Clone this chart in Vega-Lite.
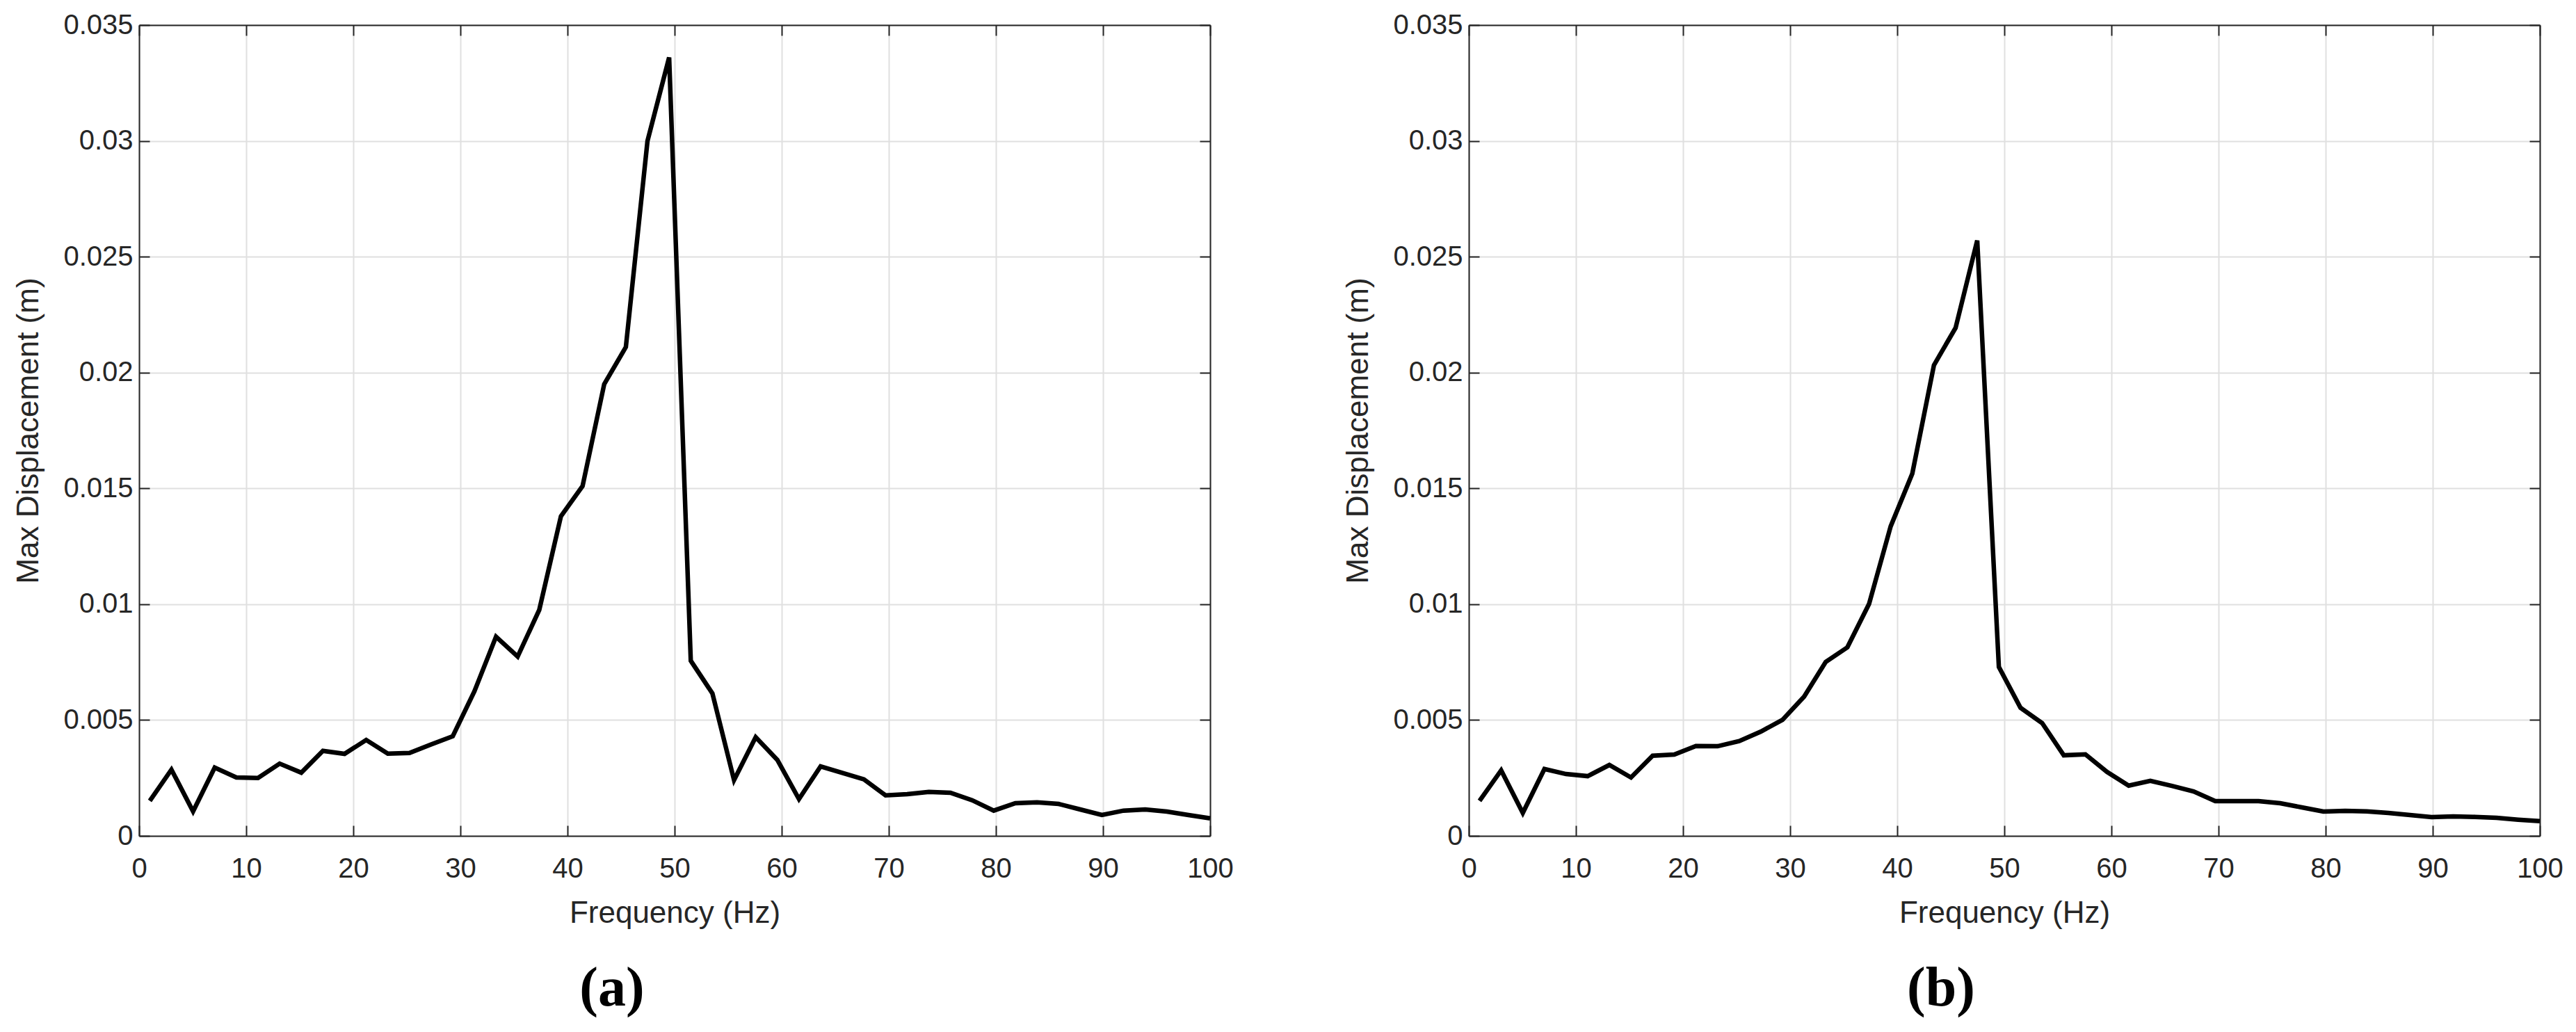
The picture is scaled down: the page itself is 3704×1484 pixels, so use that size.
{
  "$schema": "https://vega.github.io/schema/vega-lite/v6.json",
  "background": "white",
  "padding": {"left": 19, "top": 16, "right": 5, "bottom": 5},
  "spacing": 372,
  "bounds": "flush",
  "datasets": {
    "a": [
      {"freq": 1, "disp": 0.00151}, {"freq": 3.0204, "disp": 0.00286}, {"freq": 5.0408, "disp": 0.00106},
      {"freq": 7.0612, "disp": 0.00295}, {"freq": 9.0816, "disp": 0.00252}, {"freq": 11.102, "disp": 0.0025},
      {"freq": 13.1224, "disp": 0.00312}, {"freq": 15.1429, "disp": 0.00273}, {"freq": 17.1633, "disp": 0.00367},
      {"freq": 19.1837, "disp": 0.00354}, {"freq": 21.2041, "disp": 0.00414}, {"freq": 23.2245, "disp": 0.00355},
      {"freq": 25.2449, "disp": 0.00358}, {"freq": 27.2653, "disp": 0.00395}, {"freq": 29.2857, "disp": 0.0043},
      {"freq": 31.3061, "disp": 0.00624}, {"freq": 33.3265, "disp": 0.0086}, {"freq": 35.3469, "disp": 0.00774},
      {"freq": 37.3673, "disp": 0.00976}, {"freq": 39.3878, "disp": 0.0138}, {"freq": 41.4082, "disp": 0.0151},
      {"freq": 43.4286, "disp": 0.0195}, {"freq": 45.449, "disp": 0.0211}, {"freq": 47.4694, "disp": 0.03},
      {"freq": 49.4898, "disp": 0.0336}, {"freq": 51.5102, "disp": 0.00756}, {"freq": 53.5306, "disp": 0.00615},
      {"freq": 55.551, "disp": 0.00241}, {"freq": 57.5714, "disp": 0.00426}, {"freq": 59.5918, "disp": 0.00328},
      {"freq": 61.6122, "disp": 0.00159}, {"freq": 63.6327, "disp": 0.003}, {"freq": 65.6531, "disp": 0.00272},
      {"freq": 67.6735, "disp": 0.00244}, {"freq": 69.6939, "disp": 0.00175}, {"freq": 71.7143, "disp": 0.0018},
      {"freq": 73.7347, "disp": 0.0019}, {"freq": 75.7551, "disp": 0.00186}, {"freq": 77.7755, "disp": 0.00154},
      {"freq": 79.7959, "disp": 0.00109}, {"freq": 81.8163, "disp": 0.00141}, {"freq": 83.8367, "disp": 0.00145},
      {"freq": 85.8571, "disp": 0.00138}, {"freq": 87.8776, "disp": 0.00114}, {"freq": 89.898, "disp": 0.0009},
      {"freq": 91.9184, "disp": 0.00109}, {"freq": 93.9388, "disp": 0.00114}, {"freq": 95.9592, "disp": 0.00105},
      {"freq": 97.9796, "disp": 0.0009}, {"freq": 100, "disp": 0.00076}
    ],
    "b": [
      {"freq": 1, "disp": 0.00151}, {"freq": 3.0204, "disp": 0.00283}, {"freq": 5.0408, "disp": 0.00099},
      {"freq": 7.0612, "disp": 0.00289}, {"freq": 9.0816, "disp": 0.00267}, {"freq": 11.102, "disp": 0.00258},
      {"freq": 13.1224, "disp": 0.00306}, {"freq": 15.1429, "disp": 0.00252}, {"freq": 17.1633, "disp": 0.00346},
      {"freq": 19.1837, "disp": 0.00351}, {"freq": 21.2041, "disp": 0.00388}, {"freq": 23.2245, "disp": 0.00387},
      {"freq": 25.2449, "disp": 0.00409}, {"freq": 27.2653, "disp": 0.0045}, {"freq": 29.2857, "disp": 0.00501},
      {"freq": 31.3061, "disp": 0.00601}, {"freq": 33.3265, "disp": 0.00751}, {"freq": 35.3469, "disp": 0.00814},
      {"freq": 37.3673, "disp": 0.01001}, {"freq": 39.3878, "disp": 0.01336}, {"freq": 41.4082, "disp": 0.01564},
      {"freq": 43.4286, "disp": 0.02032}, {"freq": 45.449, "disp": 0.02193}, {"freq": 47.4694, "disp": 0.0257},
      {"freq": 49.4898, "disp": 0.00729}, {"freq": 51.5102, "disp": 0.00553}, {"freq": 53.5306, "disp": 0.00487},
      {"freq": 55.551, "disp": 0.00348}, {"freq": 57.5714, "disp": 0.00352}, {"freq": 59.5918, "disp": 0.00276},
      {"freq": 61.6122, "disp": 0.00217}, {"freq": 63.6327, "disp": 0.00238}, {"freq": 65.6531, "disp": 0.00216},
      {"freq": 67.6735, "disp": 0.00192}, {"freq": 69.6939, "disp": 0.0015}, {"freq": 71.7143, "disp": 0.0015},
      {"freq": 73.7347, "disp": 0.0015}, {"freq": 75.7551, "disp": 0.00141}, {"freq": 77.7755, "disp": 0.00123},
      {"freq": 79.7959, "disp": 0.00105}, {"freq": 81.8163, "disp": 0.00108}, {"freq": 83.8367, "disp": 0.00106},
      {"freq": 85.8571, "disp": 0.00099}, {"freq": 87.8776, "disp": 0.0009}, {"freq": 89.898, "disp": 0.00081},
      {"freq": 91.9184, "disp": 0.00084}, {"freq": 93.9388, "disp": 0.00082}, {"freq": 95.9592, "disp": 0.00078},
      {"freq": 97.9796, "disp": 0.0007}, {"freq": 100, "disp": 0.00064}
    ]
  },
  "hconcat": [
    {
      "data": {"name": "a"},
      "width": 1540,
      "height": 1166,
      "title": {"text": "(a)", "orient": "bottom", "dx": -90, "offset": 48},
      "layer": [
        {
          "mark": {"type": "line", "color": "black", "strokeWidth": 6.5},
          "encoding": {
            "x": {"field": "freq", "type": "quantitative", "scale": {"domain": [0, 100], "nice": false}, "title": "Frequency (Hz)",
                  "axis": {"values": [0, 10, 20, 30, 40, 50, 60, 70, 80, 90, 100], "grid": true}},
            "y": {"field": "disp", "type": "quantitative", "scale": {"domain": [0, 0.035], "nice": false}, "title": "Max Displacement (m)",
                  "axis": {"values": [0, 0.005, 0.01, 0.015, 0.02, 0.025, 0.03, 0.035], "format": "~g", "grid": true}}
          }
        },
        {
          "mark": {"type": "line", "opacity": 0},
          "encoding": {
            "x": {"field": "freq", "type": "quantitative", "axis": {"orient": "top", "labels": false, "title": null, "grid": false, "values": [0, 10, 20, 30, 40, 50, 60, 70, 80, 90, 100]}},
            "y": {"field": "disp", "type": "quantitative", "axis": {"orient": "right", "labels": false, "title": null, "grid": false, "values": [0, 0.005, 0.01, 0.015, 0.02, 0.025, 0.03, 0.035]}}
          }
        }
      ],
      "resolve": {"axis": {"x": "independent", "y": "independent"}}
    },
    {
      "data": {"name": "b"},
      "width": 1540,
      "height": 1166,
      "title": {"text": "(b)", "orient": "bottom", "dx": -91, "offset": 48},
      "layer": [
        {
          "mark": {"type": "line", "color": "black", "strokeWidth": 6.5},
          "encoding": {
            "x": {"field": "freq", "type": "quantitative", "scale": {"domain": [0, 100], "nice": false}, "title": "Frequency (Hz)",
                  "axis": {"values": [0, 10, 20, 30, 40, 50, 60, 70, 80, 90, 100], "grid": true}},
            "y": {"field": "disp", "type": "quantitative", "scale": {"domain": [0, 0.035], "nice": false}, "title": "Max Displacement (m)",
                  "axis": {"values": [0, 0.005, 0.01, 0.015, 0.02, 0.025, 0.03, 0.035], "format": "~g", "grid": true}}
          }
        },
        {
          "mark": {"type": "line", "opacity": 0},
          "encoding": {
            "x": {"field": "freq", "type": "quantitative", "axis": {"orient": "top", "labels": false, "title": null, "grid": false, "values": [0, 10, 20, 30, 40, 50, 60, 70, 80, 90, 100]}},
            "y": {"field": "disp", "type": "quantitative", "axis": {"orient": "right", "labels": false, "title": null, "grid": false, "values": [0, 0.005, 0.01, 0.015, 0.02, 0.025, 0.03, 0.035]}}
          }
        }
      ],
      "resolve": {"axis": {"x": "independent", "y": "independent"}}
    }
  ],
  "config": {
    "font": "Liberation Sans",
    "view": {"stroke": null},
    "axis": {
      "domainColor": "#262626",
      "domainWidth": 2,
      "tickColor": "#262626",
      "tickWidth": 2,
      "tickSize": -15,
      "labelFlush": false,
      "gridColor": "#e0e0e0",
      "gridWidth": 2,
      "labelFont": "Liberation Sans",
      "labelFontSize": 40,
      "labelColor": "#262626",
      "titleFont": "Liberation Sans",
      "titleFontSize": 44,
      "titleFontWeight": "normal",
      "titleColor": "#262626"
    },
    "axisX": {"labelPadding": 42, "titlePadding": 22},
    "axisY": {"labelPadding": 24, "titlePadding": 27},
    "title": {"font": "Liberation Serif", "fontSize": 80, "fontWeight": "bold", "color": "black", "anchor": "middle"}
  }
}
